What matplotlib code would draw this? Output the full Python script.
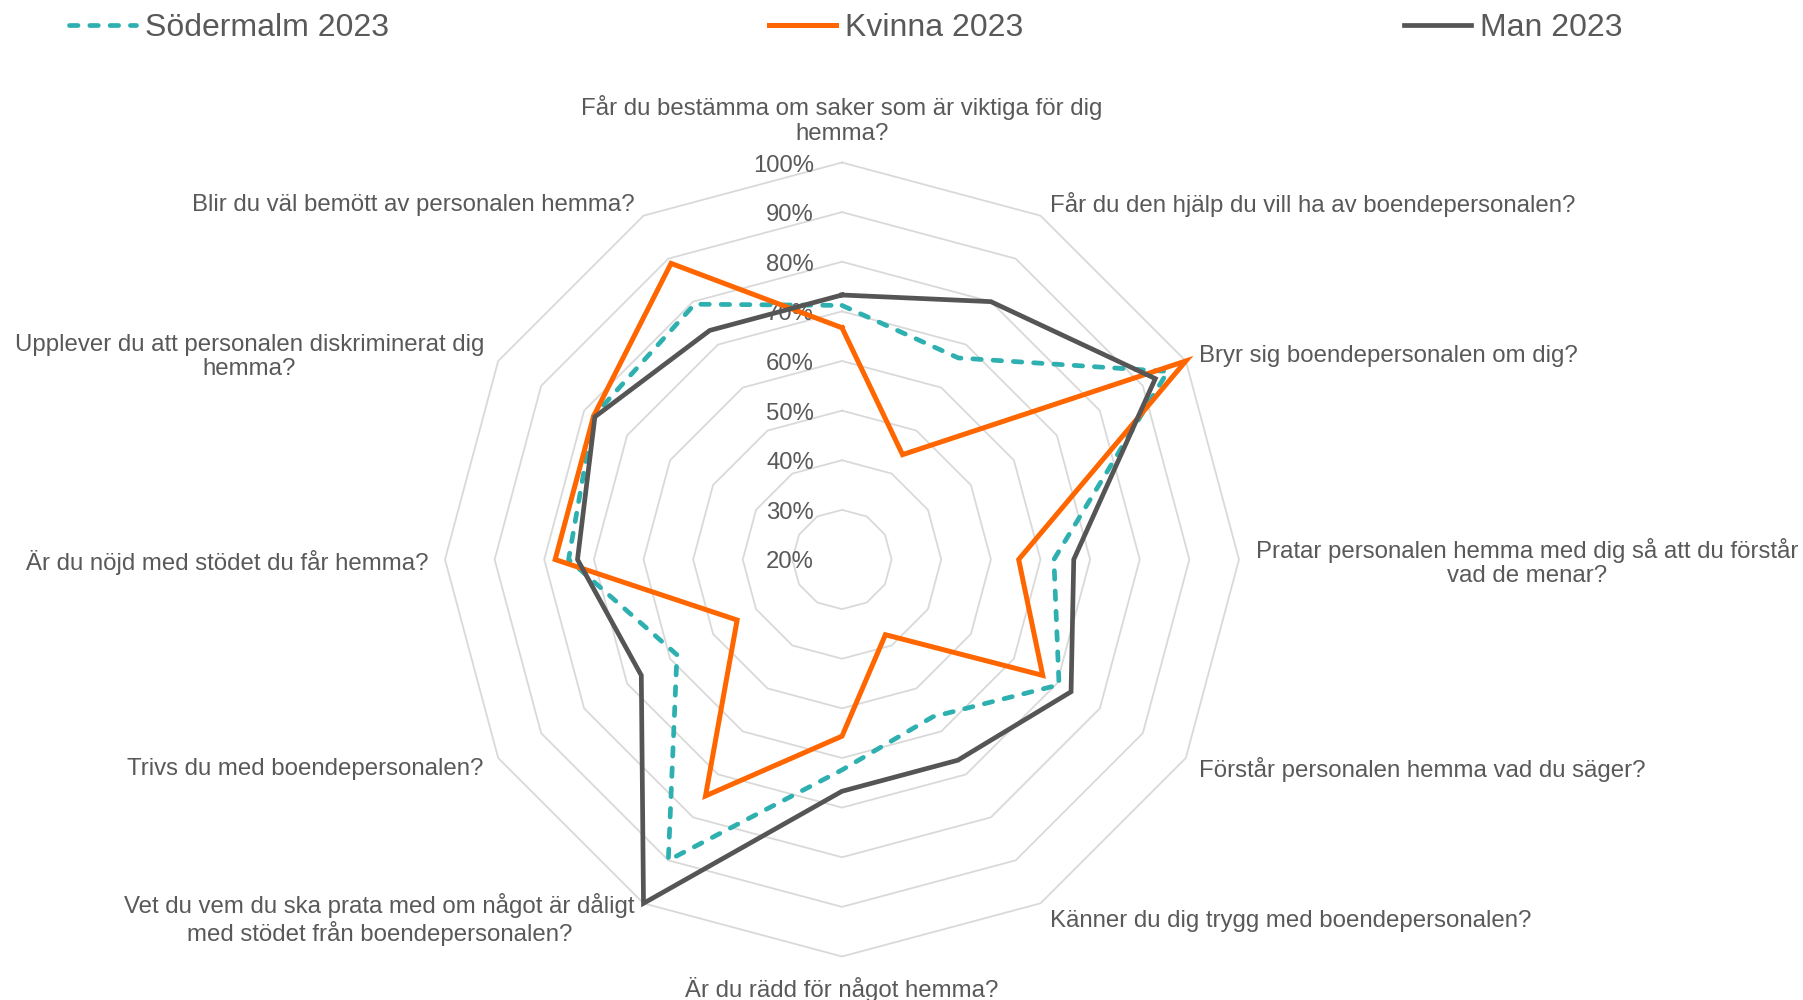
import numpy as np
import matplotlib
matplotlib.use("Agg")
import matplotlib.pyplot as plt

plt.rcParams['font.family'] = ['Liberation Sans', 'DejaVu Sans']

# questions, clockwise from the top
categories = [
    "Får du bestämma om saker som är viktiga för dig\nhemma?",
    "Får du den hjälp du vill ha av boendepersonalen?",
    "Bryr sig boendepersonalen om dig?",
    "Pratar personalen hemma med dig så att du förstår\nvad de menar?",
    "Förstår personalen hemma vad du säger?",
    "Känner du dig trygg med boendepersonalen?",
    "Är du rädd för något hemma?",
    "Vet du vem du ska prata med om något är dåligt\nmed stödet från boendepersonalen?",
    "Trivs du med boendepersonalen?",
    "Är du nöjd med stödet du får hemma?",
    "Upplever du att personalen diskriminerat dig\nhemma?",
    "Blir du väl bemött av personalen hemma?",
]

sodermalm = [71.2, 66.9, 95.8, 62.7, 70.5, 56.6, 62.4, 90.0, 58.4, 75.1, 77.8, 79.4]
kvinna = [66.7, 44.4, 100.0, 55.6, 66.7, 37.5, 55.6, 75.0, 44.4, 77.8, 77.8, 88.9]
man = [73.3, 80.0, 92.9, 66.7, 73.3, 66.7, 66.7, 100.0, 66.7, 73.3, 77.5, 73.3]

series_names = ["Södermalm 2023", "Kvinna 2023", "Man 2023"]
ring_levels = [20, 30, 40, 50, 60, 70, 80, 90, 100]

text_col = '#595959'
grid_col = '#D9D9D9'

fig = plt.figure(figsize=(18.03, 10), dpi=100)
# centre of the chart at (842, 559) px, radius 397 px
ax = fig.add_axes([0.2468, 0.0435, 0.4404, 0.794], projection='polar')
ax.set_theta_zero_location('N')
ax.set_theta_direction(-1)
ax.set_ylim(20, 100)
ax.grid(False)
ax.set_xticks([])
ax.set_yticks([])
ax.spines['polar'].set_visible(False)
ax.patch.set_alpha(0)

n = len(categories)
theta = np.arange(n) * 2 * np.pi / n
theta_c = np.append(theta, theta[0])

# polygon rings
for lev in ring_levels[1:]:
    ax.plot(theta_c, [lev] * (n + 1), color=grid_col, lw=1.3, zorder=1, clip_on=False)

# radial labels along the top spoke
for lev in ring_levels:
    ax.annotate(f"{lev}%", xy=(0, lev), xytext=(-28, -3), textcoords='offset pixels',
                ha='right', va='center', fontsize=17.2, color=text_col, zorder=2,
                annotation_clip=False)

def closed(v):
    return list(v) + [v[0]]

lw = 3.4
l1, = ax.plot(theta_c, closed(sodermalm), color='#2EAFB0', lw=lw, ls=(0, (1.8, 2.5)),
              dash_capstyle='round', zorder=3, clip_on=False, label=series_names[0])
l2, = ax.plot(theta_c, closed(kvinna), color='#FF6600', lw=3.6, solid_joinstyle='miter',
              zorder=4, clip_on=False, label=series_names[1])
l3, = ax.plot(theta_c, closed(man), color='#555555', lw=lw, solid_joinstyle='miter',
              zorder=5, clip_on=False, label=series_names[2])

# category labels around the outside
label_layout = [
    ((0, 18), 'center', 'bottom'),
    ((9, 11), 'left', 'center'),
    ((13, 5), 'left', 'center'),
    ((17, -3), 'left', 'center'),
    ((13, -11), 'left', 'center'),
    ((9, -18), 'left', 'center'),
    ((0, -20), 'center', 'top'),
    ((-9, -16), 'right', 'center'),
    ((-15, -11), 'right', 'center'),
    ((-17, -3), 'right', 'center'),
    ((-14, 4), 'right', 'center'),
    ((-9, 11), 'right', 'center'),
]
for t, cat, (off, ha, va) in zip(theta, categories, label_layout):
    ax.annotate(cat, xy=(t, 100), xytext=off, textcoords='offset pixels',
                ha=ha, va=va, multialignment='center', fontsize=17.3, color=text_col,
                annotation_clip=False, linespacing=1.15)

fig.legend(handles=[l1, l2, l3], loc='center left', bbox_to_anchor=(69 / 1803, 0.9715),
           ncol=3, frameon=False, fontsize=23, labelcolor=text_col,
           handlelength=2.1, handletextpad=0.28, columnspacing=11.9,
           borderpad=0, borderaxespad=0)

fig.savefig('out.png', dpi=100)
